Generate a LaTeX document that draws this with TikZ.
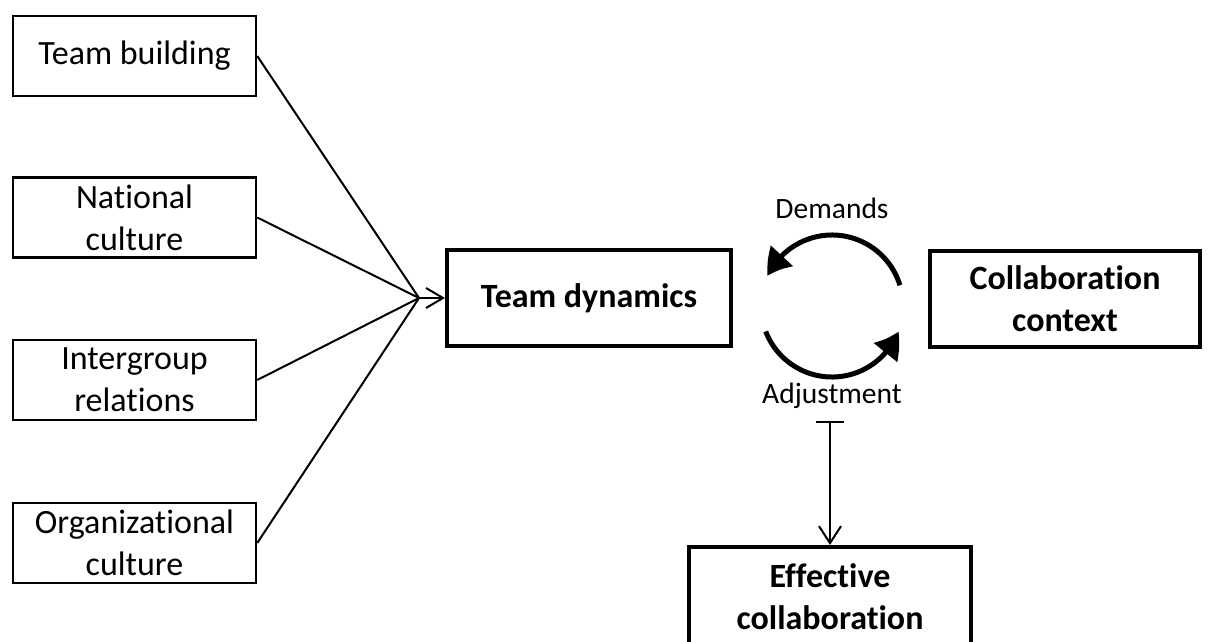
\documentclass[tikz,border=0pt]{standalone}
\usepackage{fontspec}
\setmainfont{Carlito}[Ligatures=NoCommon]
\usetikzlibrary{arrows.meta,bending,calc}
\begin{document}
\begin{tikzpicture}[x=1pt,y=1pt,
  srcbox/.style={draw, line width=2.5pt, minimum width=243pt, minimum height=80pt,
    inner sep=0pt, align=center, font=\fontsize{34}{42}\selectfont},
  mainbox/.style={draw, line width=4pt, inner sep=0pt, align=center,
    font=\fontsize{34}{42}\selectfont\bfseries},
  link/.style={line width=2pt},
  openhead/.style={-{Straight Barb[length=17pt,width=20pt]}},
  looparrow/.style={line width=5pt, -{Triangle[length=25pt,width=29pt,bend]}},
  lbl/.style={font=\fontsize{29.5}{36}\selectfont, inner sep=0pt}]
\useasboundingbox (0,0) rectangle (1208,-642);

% influencing factors
\node[srcbox] (tb) at (134.5,-56) {Team building};
\node[srcbox] (nc) at (134.5,-217.5) {National\\culture};
\node[srcbox] (ir) at (134.5,-380) {Intergroup\\relations};
\node[srcbox] (oc) at (134.5,-543) {Organizational\\culture};

% central boxes
\node[mainbox, minimum width=284pt, minimum height=96pt] (td) at (589,-298) {Team dynamics};
\node[mainbox, minimum width=270pt, minimum height=96pt] (cc) at (1065,-299) {Collaboration\\context};
\node[mainbox, minimum width=282pt, minimum height=100pt, anchor=north] (ec) at (830,-545) {Effective\\collaboration};

% fan of factors into team dynamics
\coordinate (hub) at (419,-298);
\draw[link] (tb.east) -- (hub);
\draw[link] (nc.east) -- (hub);
\draw[link] (ir.east) -- (hub);
\draw[link] (oc.east) -- (hub);
\draw[link, openhead] (hub) -- (td.west);

% demands / adjustment cycle
\coordinate (loopc) at (832,-306);
\draw[looparrow] ($(loopc)+(17:71)$) arc (17:155:71);
\draw[looparrow] ($(loopc)+(201:71)$) arc (201:339:71);
\node[lbl, anchor=base] (dem) at (832,-218) {Demands};
\node[lbl, anchor=base] (adj) at (832,-403) {Adjustment};

% outcome
\coordinate (adjfoot) at (830,-421);
\draw[link, {Bar[width=28pt]}-{Straight Barb[length=17pt,width=22pt]}] (adjfoot) -- (ec.north);
\end{tikzpicture}
\end{document}
